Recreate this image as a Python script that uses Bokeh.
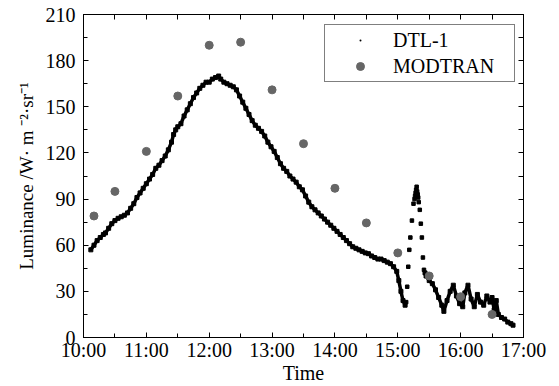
import numpy as np
from bokeh.plotting import figure
from bokeh.models import (Range1d, LinearAxis, FixedTicker, Legend, LegendItem)
from bokeh.embed import file_html
from bokeh.resources import INLINE

# ---- data (time in minutes after 10:00, luminance in W·m^-2·sr^-1) ----
dtl_min_a = [7, 10, 13, 16, 19, 21, 24, 27, 30, 33, 36, 39, 42, 45, 48, 51, 54, 57, 60,
             63, 66, 69, 72, 75, 78, 81, 84, 86, 88, 90, 93, 96, 99, 102, 105, 108, 111,
             114, 117, 120, 123, 126, 129, 131, 134, 137, 140, 143, 146, 149, 152, 155,
             158, 161, 164, 167, 170, 173, 176, 179, 182, 185, 188, 191, 194, 197, 200,
             203, 206, 209, 212, 215, 218, 221, 224, 227, 230, 233, 236, 239, 242, 245,
             248, 251, 254, 257, 260, 263, 266, 269, 272, 275, 278, 281, 284, 287, 290,
             293, 296, 299, 301, 303, 305, 307]
dtl_val_a = [57, 60, 63, 65, 67, 68, 71, 74, 76, 77.5, 78.5, 79.5, 81, 84, 87, 91, 94, 97, 100,
             103, 106, 110, 112, 115, 118, 122, 127, 132, 135, 137, 139, 144, 148, 152, 156, 159, 162,
             164, 166, 166, 168, 169, 170, 168, 166, 165, 164, 163, 161, 157, 153, 149,
             145, 141, 138, 136, 134, 131, 127, 124, 121, 117, 113, 110, 108, 105, 103,
             101, 98, 96, 92, 88, 85, 83, 81, 79, 77, 75, 73, 71, 69, 67,
             65, 63, 61, 59, 58, 57, 56, 55, 54.5, 53, 52, 51, 51, 50, 49,
             48, 46, 43, 37, 30, 24, 21]

dtl_min_b = [308, 309, 310, 311, 312, 313.5, 315, 316, 316.5, 317, 317.5, 318, 318.5, 319,
             319.5, 320, 321, 322, 323, 324, 325]
dtl_val_b = [23, 33, 46, 57, 65, 76, 87, 90, 92, 94, 96, 98, 95, 93, 91, 88, 83, 74, 65, 52, 44]

dtl_min_c = [326, 327, 330, 333, 336, 339, 342, 344, 347, 350, 353, 356, 359, 362, 364, 367,
             370, 373, 376, 379, 382, 385, 388, 390, 392, 394, 396, 399, 402, 405, 408, 410]
dtl_val_c = [42, 40, 37, 35, 31, 26, 21, 17, 24, 30, 34, 27, 22, 20, 29, 34,
             25, 20, 28, 23, 21, 27, 23, 26, 18, 24, 15, 13, 12, 10, 9, 8]

modtran_min = [10, 30, 60, 90, 120, 150, 180, 210, 240, 270, 300, 330, 360, 390]
modtran_val = [79, 95, 121, 157, 190, 192, 161, 126, 97, 74.5, 55, 40, 26.5, 15]

x_tick_hours = [10, 11, 12, 13, 14, 15, 16, 17]
x_tick_labels = ["10:00", "11:00", "12:00", "13:00", "14:00", "15:00", "16:00", "17:00"]
y_ticks = [0, 30, 60, 90, 120, 150, 180, 210]


def to_h(m):
    return 10 + np.asarray(m, dtype=float) / 60.0


FONT = "Liberation Serif"

p = figure(width=559, height=386, output_backend="svg", toolbar_location=None,
           x_range=Range1d(10, 17), y_range=Range1d(0, 210),
           min_border_left=83, min_border_right=36, min_border_top=14, min_border_bottom=44,
           x_axis_label="Time", y_axis_label="Luminance /W· m ⁻²·sr⁻¹")
p.background_fill_color = "white"
p.border_fill_color = "white"
p.grid.visible = False
p.outline_line_color = "black"
p.outline_line_width = 1

p.line(to_h(dtl_min_a), dtl_val_a, line_color="black", line_width=3.5)
p.scatter(to_h(dtl_min_a), dtl_val_a, marker="square", size=4, color="black")
p.scatter(to_h(dtl_min_b), dtl_val_b, marker="square", size=3.5, color="black")
p.line(to_h(dtl_min_c), dtl_val_c, line_color="black", line_width=3.5)
p.scatter(to_h(dtl_min_c), dtl_val_c, marker="square", size=4, color="black")
rm = p.scatter(to_h(modtran_min), modtran_val, marker="circle", size=8,
               color="#666666", line_color="#666666")
# tiny-dot glyph on the DTL-1 samples (used for the legend entry)
rdot = p.scatter(to_h(dtl_min_b), dtl_val_b, marker="dot", size=10, color="black")


def half_steps(ticks):
    step = (ticks[1] - ticks[0]) / 2
    return list(np.arange(ticks[0], ticks[-1] + 1e-9, step))


def style_axis(ax, ticks):
    ax.ticker = FixedTicker(ticks=ticks, minor_ticks=half_steps(ticks))
    ax.major_tick_in = 5
    ax.major_tick_out = 0
    ax.minor_tick_in = 4
    ax.minor_tick_out = 0
    ax.axis_line_color = "black"
    ax.major_tick_line_color = "black"
    ax.minor_tick_line_color = "black"
    ax.major_label_text_font = FONT
    ax.major_label_text_font_size = "20px"
    ax.major_label_text_color = "black"
    ax.axis_label_text_font = FONT
    ax.axis_label_text_font_style = "normal"
    ax.axis_label_text_font_size = "20px"
    ax.axis_label_text_color = "black"


def mirror_axis(ax, ticks):
    # ticks only, no labels
    ax.ticker = FixedTicker(ticks=[], minor_ticks=half_steps(ticks))
    ax.minor_tick_in = 5
    ax.minor_tick_out = 0
    ax.major_tick_in = 0
    ax.major_tick_out = 0
    ax.axis_line_color = "black"
    ax.minor_tick_line_color = "black"


xa = p.xaxis[0]
style_axis(xa, x_tick_hours)
xa.major_label_overrides = {h: lab for h, lab in zip(x_tick_hours, x_tick_labels)}
xa.major_label_standoff = 1
xa.axis_label_standoff = -2

ya = p.yaxis[0]
style_axis(ya, y_ticks)
ya.major_label_standoff = 8
ya.axis_label_standoff = 6
ya.axis_label_text_font_size = "19px"

top = LinearAxis()
mirror_axis(top, x_tick_hours)
p.add_layout(top, "above")
right = LinearAxis()
mirror_axis(right, y_ticks)
p.add_layout(right, "right")

legend = Legend(items=[LegendItem(label="DTL-1", renderers=[rdot]),
                       LegendItem(label="MODTRAN", renderers=[rm])],
                location=(241, 255), orientation="vertical")
legend.label_text_font = FONT
legend.label_text_font_size = "20px"
legend.label_text_color = "black"
legend.border_line_color = "black"
legend.border_line_width = 1
legend.background_fill_alpha = 1
legend.padding = 2
legend.spacing = 0
legend.margin = 0
legend.glyph_width = 66
legend.glyph_height = 20
legend.label_height = 26
legend.label_width = 119
legend.label_standoff = 0
p.add_layout(legend, "center")

open("out.html", "w").write(file_html(p, INLINE))
